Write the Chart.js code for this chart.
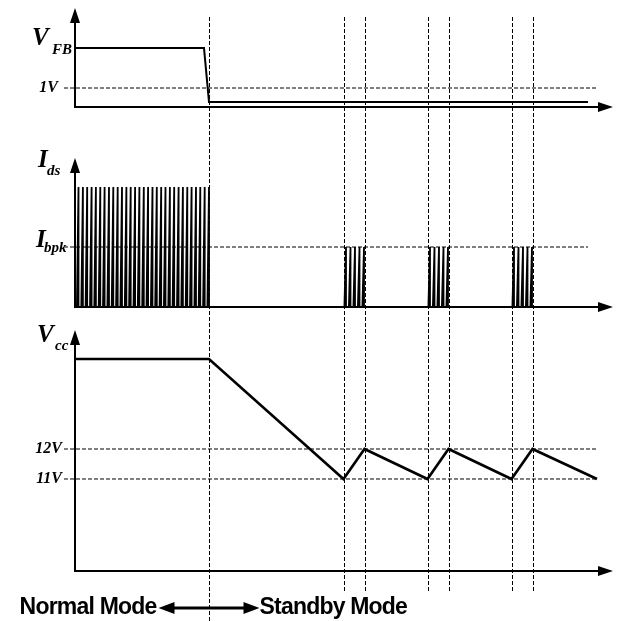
<!DOCTYPE html>
<html>
<head>
<meta charset="utf-8">
<script src="https://cdn.jsdelivr.net/npm/chart.js@4/dist/chart.umd.min.js"></script>
<style>
html,body{margin:0;padding:0;background:#fff;}
#wrap{position:relative;width:617px;height:621px;}
</style>
</head>
<body>
<div id="wrap"><canvas id="c" width="617" height="621"></canvas></div>
<script>
// ---------------- data (time axis in arbitrary units, 0 = vertical axis) ----------------
const modeSwitchT = 134;                         // Normal -> Standby boundary
const burstEdgesT = [268.5, 289.5, 352.5, 373.5, 436.5, 457.5];

// V_FB waveform
const vfbT = [0, 129, 134, 513];
const vfbV = [3.1, 3.1, 0.26, 0.26];
const vfbRefLevel = 1;                           // 1V
const vfbRefT = [-11, 522];

// I_ds waveform
const normalPulseFallT = [3.5, 7.9, 12.2, 16.6, 20.9, 25.3, 29.6, 34.0, 38.3, 42.7, 47.0,
  51.4, 55.7, 60.1, 64.4, 68.8, 73.1, 77.5, 81.8, 86.2, 90.5, 94.9, 99.2, 103.6, 107.9,
  112.3, 116.6, 121.0, 125.3, 129.7, 134.0];
const burstPulseFallT = [271, 275.5, 280, 284.5, 289,
  355, 359.5, 364, 368.5, 373,
  439, 443.5, 448, 452.5, 457];
const pulseRiseT = 1.6;
const idsNormalPeak = 2;
const idsBurstPeak = 1;                          // I_bpk
const ibpkRefT = [-11, 513];

// Vcc waveform
const vccT = [0, 134, 268.5, 289.5, 352.5, 373.5, 436.5, 457.5, 522];
const vccV = [15, 15, 11, 12, 11, 12, 11, 12, 11];
const vccRefLevels = [12, 11];
const vccRefT = [-11, 522];
const vccAxisBase = 7.9333;

// tick labels
const vfbTicks = [1];
const vccTicks = [11, 12];
const labelVfb = ['V', 'FB'];
const labelIds = ['I', 'ds'];
const labelIbpk = ['I', 'bpk'];
const labelVcc = ['V', 'cc'];
const modeLeftText = 'Normal Mode';
const modeRightText = 'Standby Mode';

// ---------------- helpers ----------------
const xy = (ts, vs) => ts.map((t, i) => ({x: t, y: vs[i]}));
function pulseTrain(falls, peak) {
  const pts = [];
  falls.forEach(f => { pts.push({x: f - pulseRiseT, y: 0}, {x: f, y: peak}, {x: f, y: 0}); });
  return pts;
}
const base = {pointRadius: 0, borderColor: '#000', tension: 0, fill: false};
const refLine = (ts, level, axis) => Object.assign({}, base, {
  data: ts.map(t => ({x: t, y: level})), yAxisID: axis, borderWidth: 1, borderDash: [4, 2], clip: false
});

const serifFont = {family: '"Liberation Serif", "Times New Roman", serif', size: 16, style: 'italic', weight: 'bold'};

function yScale(weight, min, max, ticks, pad) {
  return {
    type: 'linear', position: 'left', stack: 'panels', stackWeight: weight, min, max,
    grid: {display: false, drawTicks: false}, border: {display: false},
    ticks: {display: ticks.length > 0, color: '#000', font: serifFont, padding: pad,
            callback: v => v + 'V'},
    afterBuildTicks: s => { s.ticks = ticks.map(v => ({value: v})); },
    afterFit: s => { s.width = 75; s.paddingTop = 0; s.paddingBottom = 0; s.paddingLeft = 0; s.paddingRight = 0; }
  };
}

// ---------------- drawing plugin: axes, arrows, markers, labels ----------------
const diagramPlugin = {
  id: 'diagram',
  beforeDatasetsDraw(chart) {
    const ctx = chart.ctx, xs = chart.scales.x;
    ctx.save();
    ctx.strokeStyle = '#000'; ctx.lineWidth = 1; ctx.setLineDash([4, 2]);
    const vline = (t, y0, y1) => {
      const px = Math.round(xs.getPixelForValue(t)) + 0.5;
      ctx.beginPath(); ctx.moveTo(px, y0); ctx.lineTo(px, y1); ctx.stroke();
    };
    vline(modeSwitchT, 17, chart.height);
    burstEdgesT.forEach(t => vline(t, 17, 592));
    ctx.restore();
  },
  afterDatasetsDraw(chart) {
    const ctx = chart.ctx, xs = chart.scales.x;
    const x0 = xs.getPixelForValue(0), x1 = xs.getPixelForValue(xs.max);
    ctx.save();
    ctx.fillStyle = '#000'; ctx.strokeStyle = '#000'; ctx.setLineDash([]);
    [['yVfb', 0], ['yIds', 0], ['yVcc', vccAxisBase]].forEach(([id, b]) => {
      const s = chart.scales[id];
      const y = s.getPixelForValue(b), top = s.getPixelForValue(s.max);
      ctx.lineWidth = 2;
      ctx.beginPath(); ctx.moveTo(x0, y); ctx.lineTo(x0, top + 10); ctx.stroke();
      ctx.beginPath(); ctx.moveTo(x0 - 1, y); ctx.lineTo(x1 - 10, y); ctx.stroke();
      ctx.beginPath(); ctx.moveTo(x0, top); ctx.lineTo(x0 - 5, top + 15); ctx.lineTo(x0 + 5, top + 15); ctx.closePath(); ctx.fill();
      ctx.beginPath(); ctx.moveTo(x1, y); ctx.lineTo(x1 - 15, y - 5); ctx.lineTo(x1 - 15, y + 5); ctx.closePath(); ctx.fill();
    });

    // panel labels with subscripts
    const big = 'italic bold 25px "Liberation Serif", serif';
    const small = 'italic bold 15px "Liberation Serif", serif';
    const lbl = (parts, x, yb, dx, dy) => {
      ctx.textAlign = 'left'; ctx.textBaseline = 'alphabetic';
      ctx.font = big; ctx.fillText(parts[0], x, yb);
      ctx.font = small; ctx.fillText(parts[1], x + dx, yb + dy);
    };
    const sV = chart.scales.yVfb, sI = chart.scales.yIds, sC = chart.scales.yVcc;
    lbl(labelVfb, 32, sV.getPixelForValue(vfbV[0]) - 3, 20, 9);
    lbl(labelIds, 38, sI.top + 9, 9, 8);
    lbl(labelIbpk, 36, sI.getPixelForValue(idsBurstPeak), 8, 5);
    lbl(labelVcc, 37, sC.top + 12, 18, 8);

    // bottom mode annotation
    const xm = xs.getPixelForValue(modeSwitchT), ym = 608;
    const half = 50.5;
    ctx.lineWidth = 3;
    ctx.beginPath(); ctx.moveTo(xm - half + 12, ym); ctx.lineTo(xm + half - 12, ym); ctx.stroke();
    ctx.beginPath(); ctx.moveTo(xm - half, ym); ctx.lineTo(xm - half + 16, ym - 6); ctx.lineTo(xm - half + 16, ym + 6); ctx.closePath(); ctx.fill();
    ctx.beginPath(); ctx.moveTo(xm + half, ym); ctx.lineTo(xm + half - 16, ym - 6); ctx.lineTo(xm + half - 16, ym + 6); ctx.closePath(); ctx.fill();
    ctx.font = 'bold 23px "Liberation Sans", Arial, sans-serif';
    if ('letterSpacing' in ctx) ctx.letterSpacing = '-0.8px';
    ctx.textBaseline = 'alphabetic';
    ctx.textAlign = 'right'; ctx.fillText(modeLeftText, xm - half - 2, 614);
    ctx.textAlign = 'left'; ctx.fillText(modeRightText, xm + half, 614);
    ctx.restore();
  }
};

new Chart(document.getElementById('c'), {
  type: 'line',
  data: {
    datasets: [
      refLine(vfbRefT, vfbRefLevel, 'yVfb'),
      refLine(ibpkRefT, idsBurstPeak, 'yIds'),
      refLine(vccRefT, vccRefLevels[0], 'yVcc'),
      refLine(vccRefT, vccRefLevels[1], 'yVcc'),
      Object.assign({}, base, {data: xy(vfbT, vfbV), yAxisID: 'yVfb', borderWidth: 2}),
      Object.assign({}, base, {data: pulseTrain(normalPulseFallT, idsNormalPeak), yAxisID: 'yIds', borderWidth: 1.8}),
      Object.assign({}, base, {data: pulseTrain(burstPulseFallT, idsBurstPeak), yAxisID: 'yIds', borderWidth: 1.8}),
      Object.assign({}, base, {data: xy(vccT, vccV), yAxisID: 'yVcc', borderWidth: 2.6})
    ]
  },
  options: {
    responsive: false, animation: false, devicePixelRatio: 1, events: [],
    layout: {padding: {left: 0, right: 4, top: 8, bottom: 50}},
    plugins: {legend: {display: false}, tooltip: {enabled: false}},
    scales: {
      x: {type: 'linear', min: 0, max: 538, display: false},
      yVcc: yScale(241, vccAxisBase, 15.9667, vccTicks, 13),
      yIds: yScale(172, -0.3833, 2.4833, [], 0),
      yVfb: yScale(150, -2.684, 5.2105, vfbTicks, 17)
    }
  },
  plugins: [diagramPlugin]
});
</script>
</body>
</html>
